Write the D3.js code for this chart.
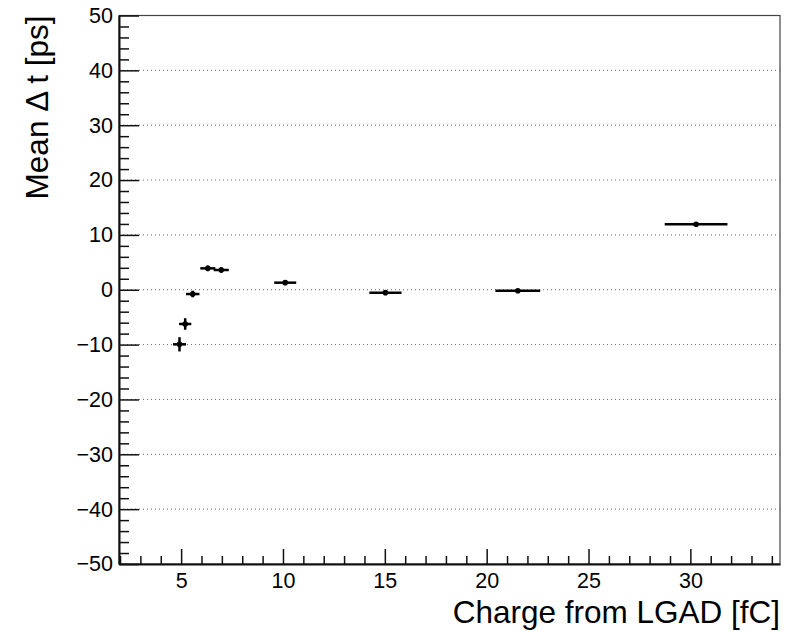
<!DOCTYPE html>
<html>
<head>
<meta charset="utf-8">
<script src="https://cdn.jsdelivr.net/npm/d3@7"></script>
<style>
  body { margin: 0; background: #fff; }
  text { font-family: "Liberation Sans", Arial, Helvetica, sans-serif; }
</style>
</head>
<body>
<script>
// values
var charge    = [4.92, 5.20, 5.57, 6.31, 6.97, 10.11, 15.03, 21.53, 30.28];
var chargeErr = [0.32, 0.30, 0.33, 0.37, 0.37, 0.54, 0.79, 1.10, 1.54];
var meanDt    = [-9.95, -6.24, -0.78, 3.90, 3.60, 1.29, -0.53, -0.17, 11.93];
var meanDtErr = [1.30, 1.05, 0.60, 0.50, 0.50, 0.25, 0.25, 0.20, 0.20];

var xMajor = [5, 10, 15, 20, 25, 30];
var yMajor = [-50, -40, -30, -20, -10, 0, 10, 20, 30, 40, 50];

var width = 792;
var height = 631;
var frame = {left: 119, top: 15.5, right: 780, bottom: 564};

var svg = d3.select("body").append("svg")
    .attr("width", width)
    .attr("height", height);

var x = d3.scaleLinear().domain([1.95, 34.4]).range([frame.left, frame.right]);
var y = d3.scaleLinear().domain([-50, 50]).range([frame.bottom, frame.top]);

var xMinor = d3.range(2, 35).filter(function(v) { return v % 5 != 0; });
var yMinor = d3.range(-48, 50, 2).filter(function(v) { return v % 10 != 0; });

// frame
svg.append("rect")
    .attr("x", frame.left)
    .attr("y", frame.top)
    .attr("width", frame.right - frame.left)
    .attr("height", frame.bottom - frame.top)
    .attr("fill", "none")
    .attr("stroke", "#444")
    .attr("stroke-width", 1.2);

// dotted grid
svg.append("g").selectAll("line")
    .data(yMajor.filter(function(v) { return Math.abs(v) < 50; }))
    .enter().append("line")
      .attr("x1", frame.left)
      .attr("x2", frame.right)
      .attr("y1", function(d) { return y(d); })
      .attr("y2", function(d) { return y(d); })
      .attr("stroke", "#666")
      .attr("stroke-width", 1)
      .attr("stroke-dasharray", "1,3");

// x axis
svg.append("g")
    .attr("transform", "translate(0," + frame.bottom + ")")
    .call(d3.axisBottom(x).tickValues(xMajor).tickSizeInner(-15).tickSizeOuter(0).tickPadding(9));
svg.append("g")
    .attr("transform", "translate(0," + frame.bottom + ")")
    .call(d3.axisBottom(x).tickValues(xMinor).tickSizeInner(-8).tickSizeOuter(0).tickFormat(""))
    .select(".domain").remove();

// y axis
svg.append("g")
    .attr("transform", "translate(" + frame.left + ",0)")
    .call(d3.axisLeft(y).tickValues(yMajor).tickSizeInner(-20).tickSizeOuter(0).tickPadding(6)
      .tickFormat(function(d) { return d < 0 ? "\u2212" + Math.abs(d) : d; }));
svg.append("g")
    .attr("transform", "translate(" + frame.left + ",0)")
    .call(d3.axisLeft(y).tickValues(yMinor).tickSizeInner(-10).tickSizeOuter(0).tickFormat(""))
    .select(".domain").remove();

svg.selectAll(".tick line").attr("stroke", "#111").attr("stroke-width", 1.5);
svg.selectAll(".domain").attr("stroke", "#111").attr("stroke-width", 2);
svg.selectAll(".tick text")
    .attr("font-family", "'Liberation Sans', Arial, Helvetica, sans-serif")
    .attr("font-size", 21.5)
    .attr("fill", "#000");

// error bars
var pts = charge.map(function(c, i) {
    return {x: c, ex: chargeErr[i], y: meanDt[i], ey: meanDtErr[i]};
});

var gp = svg.append("g");
gp.selectAll(".hbar")
    .data(pts)
    .enter().append("line")
      .attr("class", "hbar")
      .attr("x1", function(d) { return x(d.x - d.ex); })
      .attr("x2", function(d) { return x(d.x + d.ex); })
      .attr("y1", function(d) { return y(d.y); })
      .attr("y2", function(d) { return y(d.y); })
      .attr("stroke", "#000")
      .attr("stroke-width", 2.5);
gp.selectAll(".vbar")
    .data(pts)
    .enter().append("line")
      .attr("class", "vbar")
      .attr("x1", function(d) { return x(d.x); })
      .attr("x2", function(d) { return x(d.x); })
      .attr("y1", function(d) { return y(d.y - d.ey); })
      .attr("y2", function(d) { return y(d.y + d.ey); })
      .attr("stroke", "#000")
      .attr("stroke-width", 2.5);
gp.selectAll("circle")
    .data(pts)
    .enter().append("circle")
      .attr("cx", function(d) { return x(d.x); })
      .attr("cy", function(d) { return y(d.y); })
      .attr("r", 2.8)
      .attr("fill", "#000");

// titles
svg.append("text")
    .attr("x", frame.right)
    .attr("y", 623)
    .attr("text-anchor", "end")
    .attr("font-size", 31.5)
    .attr("fill", "#000")
    .text("Charge from LGAD [fC]");

svg.append("text")
    .attr("transform", "translate(48," + frame.top + ") rotate(-90)")
    .attr("text-anchor", "end")
    .attr("font-size", 31.5)
    .attr("fill", "#000")
    .text("Mean \u0394 t [ps]");
</script>
</body>
</html>
